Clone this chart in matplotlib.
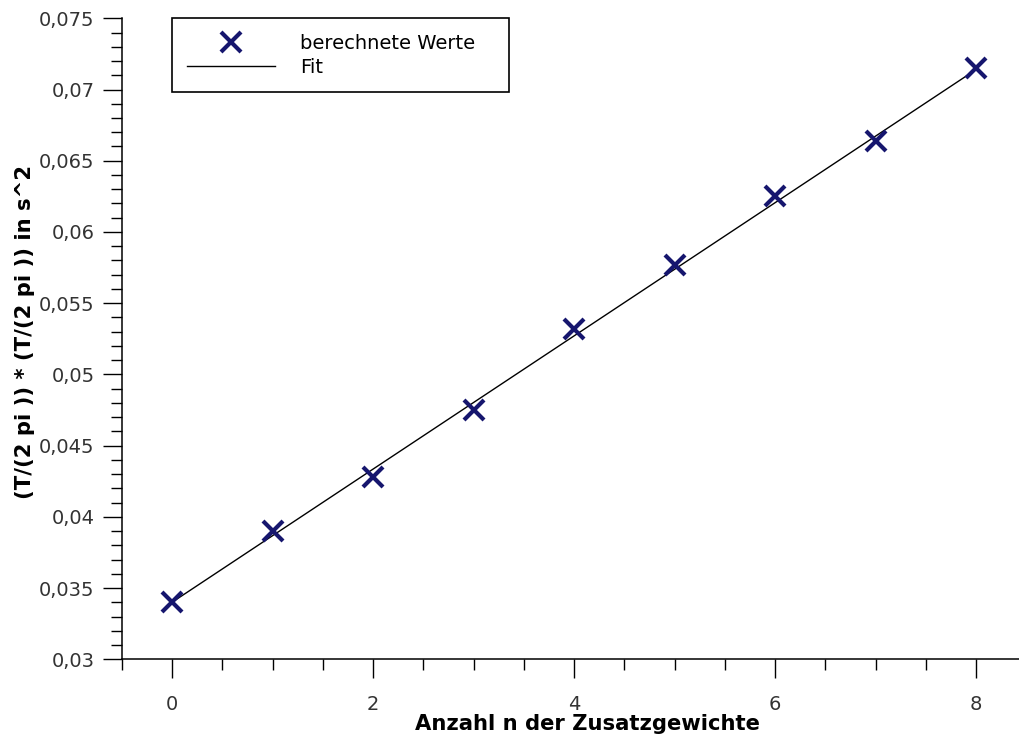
import matplotlib
matplotlib.use("Agg")
import matplotlib.pyplot as plt
from matplotlib.ticker import AutoMinorLocator, FixedLocator, FixedFormatter

# values
n_weights = [0, 1, 2, 3, 4, 5, 6, 7, 8]
t_squared = [0.0340, 0.0390, 0.0428, 0.0475, 0.0532, 0.0577, 0.0625, 0.0664, 0.0715]
fit_x = [0, 8]
fit_y = [0.0340, 0.0714]

x_ticks = [0, 2, 4, 6, 8]
y_ticks = [0.03, 0.035, 0.04, 0.045, 0.05, 0.055, 0.06, 0.065, 0.07, 0.075]
y_tick_labels = ["0,03", "0,035", "0,04", "0,045", "0,05",
                 "0,055", "0,06", "0,065", "0,07", "0,075"]

plt.rcParams["font.family"] = ["DejaVu Sans"]

W, H = 1019, 746
fig = plt.figure(figsize=(W / 100, H / 100), dpi=100)
# axes deliberately runs past the right edge, like the original
left, right, top, bottom = 121.75, 1026.25, 18.3, 659.3
ax = fig.add_axes([left / W, 1 - bottom / H, (right - left) / W, (bottom - top) / H])

ax.plot(fit_x, fit_y, color="black", lw=1.0, label="Fit", zorder=2)
ax.plot(n_weights, t_squared, ls="none", marker="x", ms=15, mew=3,
        color="#16166e", label="berechnete Werte", zorder=3)

ax.set_xlim(-0.5, 8.5)
ax.set_ylim(0.03, 0.075)
ax.xaxis.set_major_locator(FixedLocator(x_ticks))
ax.xaxis.set_minor_locator(AutoMinorLocator(4))
ax.yaxis.set_major_locator(FixedLocator(y_ticks))
ax.yaxis.set_major_formatter(FixedFormatter(y_tick_labels))
ax.yaxis.set_minor_locator(AutoMinorLocator(5))

for s in ("top", "right"):
    ax.spines[s].set_visible(False)
for s in ("left", "bottom"):
    ax.spines[s].set_linewidth(1.1)

ax.tick_params(which="major", direction="out", length=13.7, width=1.0,
               labelsize=14, labelcolor="#333333")
ax.tick_params(which="minor", direction="out", length=8, width=1.0)
ax.tick_params(axis="x", which="major", pad=12)
ax.tick_params(axis="y", which="major", pad=6)

ax.set_xlabel("Anzahl n der Zusatzgewichte", fontsize=15.2, fontweight="bold")
ax.set_ylabel("(T/(2 pi )) * (T/(2 pi )) in s^2", fontsize=15.2, fontweight="bold")
ax.xaxis.set_label_coords(0.515, -0.085)
ax.yaxis.set_label_coords(-0.096, 0.51)

handles, labels = ax.get_legend_handles_labels()
ax_w, ax_h = right - left, bottom - top
leg = ax.legend(handles[::-1], labels[::-1], loc="upper left",
                bbox_to_anchor=(50 / ax_w, 0.0, 337 / ax_w, 1.0), mode="expand",
                borderaxespad=0, fontsize=14, frameon=True, fancybox=False,
                framealpha=1, edgecolor="black", handlelength=4.5,
                handletextpad=1.3, labelspacing=0.25, borderpad=0.8)
leg.get_frame().set_linewidth(1.2)

fig.savefig("out.png", dpi=100)
